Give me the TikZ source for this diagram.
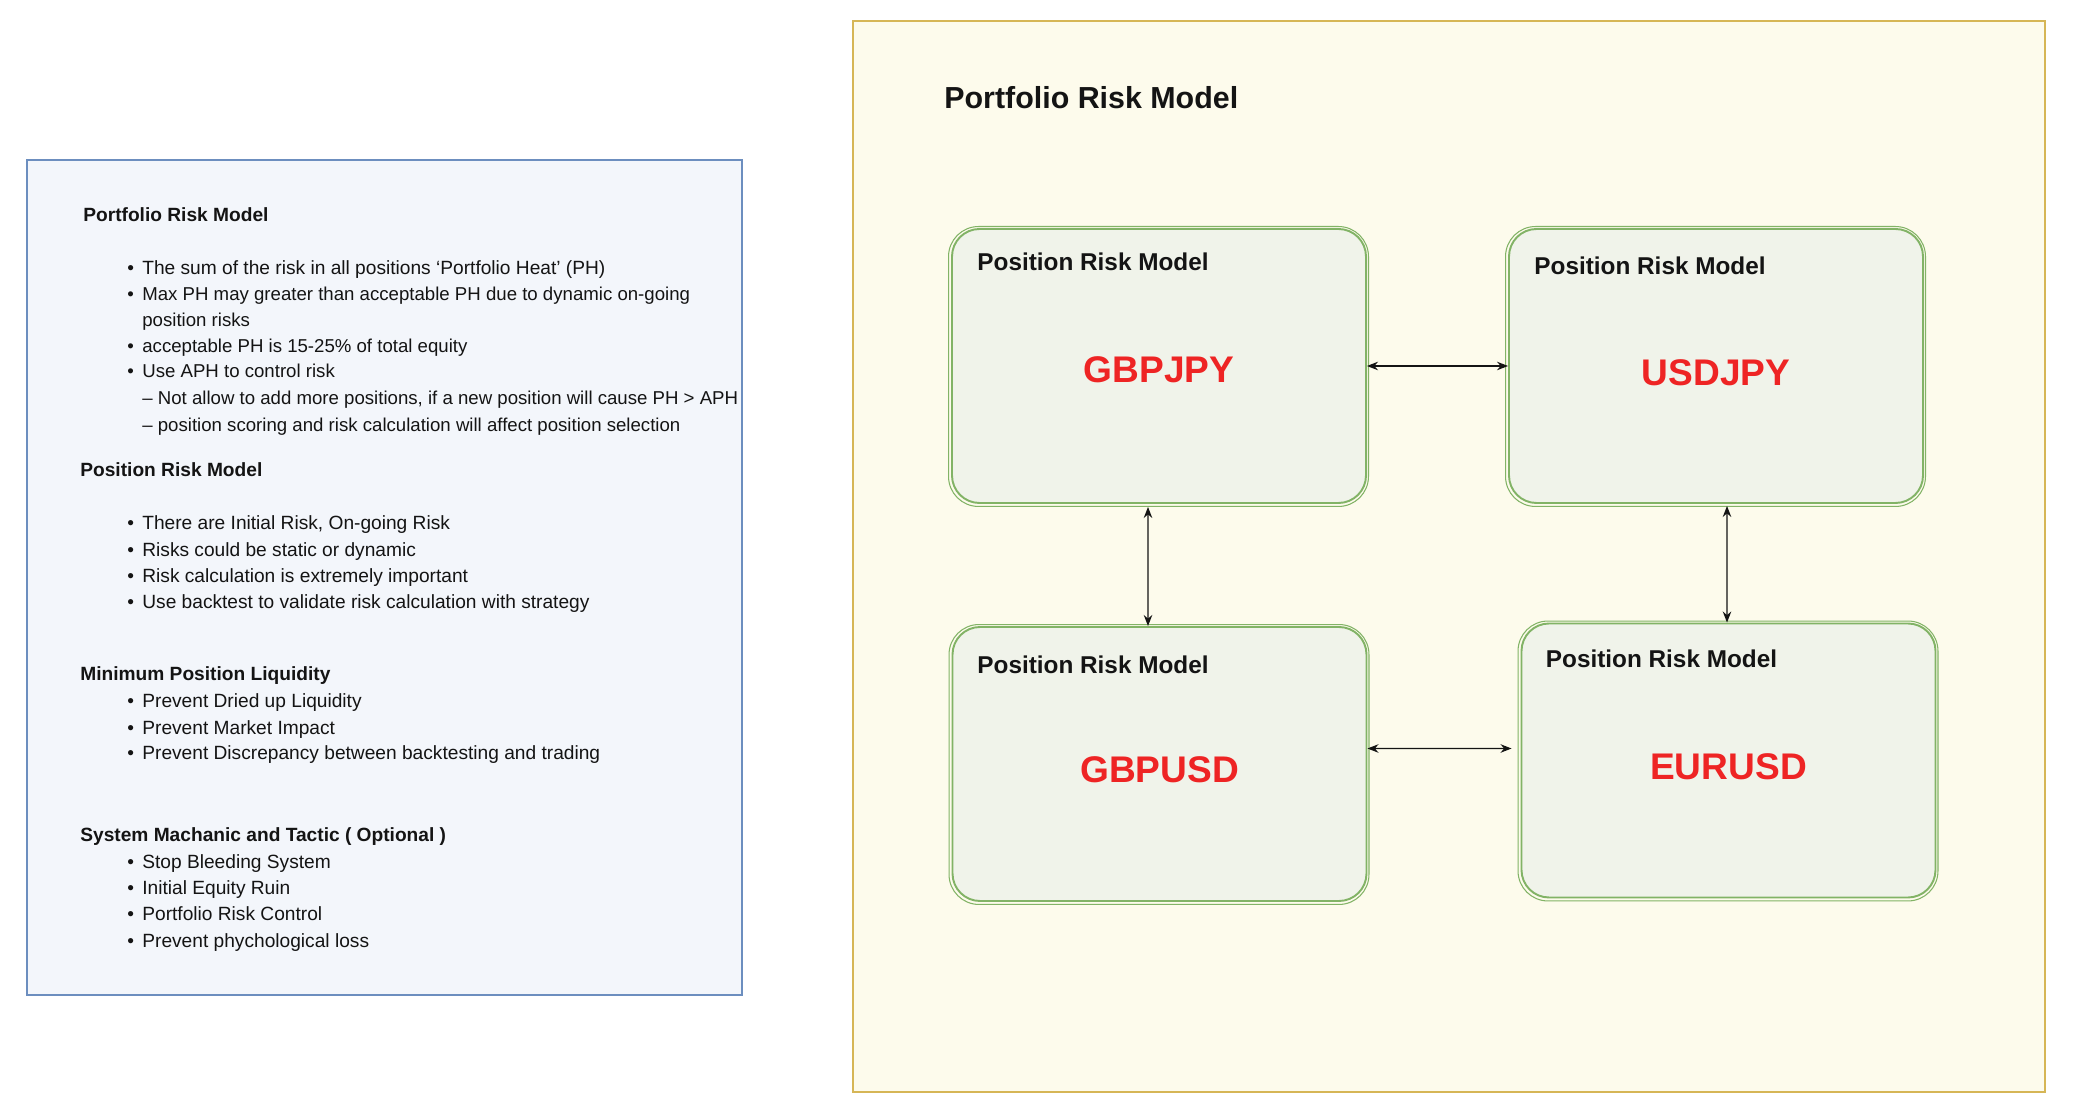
\documentclass[tikz,border=0pt]{standalone}
\usepackage{xcolor}
\usepackage{fontspec}
\setmainfont{Liberation Sans}
\usepackage{tikz}
\usetikzlibrary{arrows.meta, positioning, calc}
\definecolor{mydark}{RGB}{20,20,20}
\definecolor{noteline}{RGB}{108,142,191}
\definecolor{notefill}{RGB}{243,246,251}
\definecolor{portline}{RGB}{214,182,86}
\definecolor{portfill}{RGB}{253,251,236}
\definecolor{posline}{RGB}{130,179,102}
\definecolor{posfill}{RGB}{240,243,234}
\definecolor{pairred}{RGB}{238,36,36}
\tikzset{
  panel/.style={rectangle, inner sep=0pt, line width=0.9pt},
  posbox/.style={rectangle, draw=posline, fill=posfill, rounded corners=0.55cm,
    minimum width=8.28cm, minimum height=5.48cm, inner sep=0pt, line width=1.1pt},
  sketch/.style={draw=posline, line width=0.6pt, rounded corners=0.6cm},
  hdr/.style={anchor=west, inner sep=0pt, text height=7.85pt, text depth=0pt,
    font=\fontsize{10.9}{12}\selectfont\bfseries, text=mydark},
  itm/.style={anchor=west, inner sep=0pt, text height=7.85pt, text depth=0pt,
    font=\fontsize{10.9}{12}\selectfont, text=mydark},
  itms/.style={itm, font=\fontsize{10.6}{12}\selectfont},
  boxlabel/.style={anchor=west, inner sep=0pt, text height=9.97pt, text depth=0pt,
    font=\fontsize{13.85}{16}\selectfont\bfseries, text=mydark},
  pairlabel/.style={inner sep=0pt, text height=15.2pt, text depth=0pt,
    font=\fontsize{21.1}{24}\selectfont\bfseries, text=pairred},
  biarrow/.style={{Stealth[length=0.22cm,width=0.17cm]}-{Stealth[length=0.22cm,width=0.17cm]},
    line width=0.7pt, color=mydark}
}
\newcommand{\bul}{\makebox[0.3cm][l]{\textbullet}}

\begin{document}
\begin{tikzpicture}
  \useasboundingbox (0,0) rectangle (41.88,22.28);
  % ── notes panel (left) ───────────────────────────────────────────────────
  \node[panel, draw=noteline, fill=notefill, minimum width=14.30cm, minimum height=16.70cm] (notes) at (7.69,10.73) {};
  \node[hdr] (h1) at (1.66,17.98) {Portfolio Risk Model};
  \node[itm] (i11) at (2.54,16.92) {\bul The sum of the risk in all positions ‘Portfolio Heat’ (PH)};
  \node[itms] (i12) at (2.54,16.40) {\bul Max PH may greater than acceptable PH due to dynamic on-going};
  \node[itms] (i12b) at (2.84,15.88) {position risks};
  \node[itms] (i13) at (2.54,15.36) {\bul acceptable PH is 15-25\% of total equity};
  \node[itms] (i14) at (2.54,14.86) {\bul Use APH to control risk};
  \node[itms] (i14a) at (2.84,14.32) {– Not allow to add more positions, if a new position will cause PH > APH};
  \node[itms] (i14b) at (2.84,13.78) {– position scoring and risk calculation will affect position selection};
  \node[hdr] (h2) at (1.60,12.88) {Position Risk Model};
  \node[itm] (i21) at (2.54,11.82) {\bul There are Initial Risk, On-going Risk};
  \node[itm] (i22) at (2.54,11.28) {\bul Risks could be static or dynamic};
  \node[itm] (i23) at (2.54,10.76) {\bul Risk calculation is extremely important};
  \node[itm] (i24) at (2.54,10.24) {\bul Use backtest to validate risk calculation with strategy};
  \node[hdr] (h3) at (1.60,8.80) {Minimum Position Liquidity};
  \node[itm] (i31) at (2.54,8.26) {\bul Prevent Dried up Liquidity};
  \node[itm] (i32) at (2.54,7.72) {\bul Prevent Market Impact};
  \node[itm] (i33) at (2.54,7.22) {\bul Prevent Discrepancy between backtesting and trading};
  \node[hdr] (h4) at (1.60,5.58) {System Machanic and Tactic ( Optional )};
  \node[itm] (i41) at (2.54,5.04) {\bul Stop Bleeding System};
  \node[itm] (i42) at (2.54,4.52) {\bul Initial Equity Ruin};
  \node[itm] (i43) at (2.54,4.00) {\bul Portfolio Risk Control};
  \node[itm] (i44) at (2.54,3.46) {\bul Prevent phychological loss};
  % ── portfolio panel (right) ──────────────────────────────────────────────
  \node[panel, draw=portline, fill=portfill, minimum width=23.84cm, minimum height=21.42cm] (port) at (28.98,11.15) {};
  \node[anchor=west, inner sep=0pt, text height=12.45pt, text depth=0pt,
    font=\fontsize{17.3}{20}\selectfont\bfseries, text=mydark] (title) at (18.88,20.33) {Portfolio Risk Model};
  % position boxes
  \node[posbox] (gbpjpy) at (23.18,14.96) {};
  \node[posbox] (usdjpy) at (34.32,14.96) {};
  \node[posbox] (gbpusd) at (23.19,7.00) {};
  \node[posbox] (eurusd) at (34.57,7.07) {};
  \foreach \b in {gbpjpy,usdjpy,gbpusd,eurusd}
    \draw[sketch] ([shift={(-0.05,0.03)}]\b.north west) rectangle ([shift={(0.03,-0.05)}]\b.south east);
  \node[boxlabel] (l1) at ([xshift=0.52cm,yshift=-0.68cm]gbpjpy.north west) {Position Risk Model};
  \node[boxlabel] (l2) at ([xshift=0.52cm,yshift=-0.75cm]usdjpy.north west) {Position Risk Model};
  \node[boxlabel] (l3) at ([xshift=0.51cm,yshift=-0.77cm]gbpusd.north west) {Position Risk Model};
  \node[boxlabel] (l4) at ([xshift=0.50cm,yshift=-0.73cm]eurusd.north west) {Position Risk Model};
  \node[pairlabel] (p1) at ([yshift=-0.07cm]gbpjpy.center) {GBPJPY};
  \node[pairlabel] (p2) at ([yshift=-0.13cm]usdjpy.center) {USDJPY};
  \node[pairlabel] (p3) at ([yshift=-0.11cm]gbpusd.center) {GBPUSD};
  \node[pairlabel] (p4) at ([yshift=-0.12cm]eurusd.center) {EURUSD};
  % links
  \draw[biarrow] (gbpjpy) -- (usdjpy);
  \draw[biarrow] ([yshift=0.31cm]gbpusd.east) -- ([xshift=-0.18cm,yshift=0.24cm]eurusd.west);
  \draw[biarrow] ([xshift=-0.22cm,yshift=-0.06cm]gbpjpy.south) -- ([xshift=-0.23cm]gbpusd.north);
  \draw[biarrow] ([xshift=0.22cm,yshift=-0.04cm]usdjpy.south) -- ([xshift=-0.03cm]eurusd.north);
\end{tikzpicture}
\end{document}
